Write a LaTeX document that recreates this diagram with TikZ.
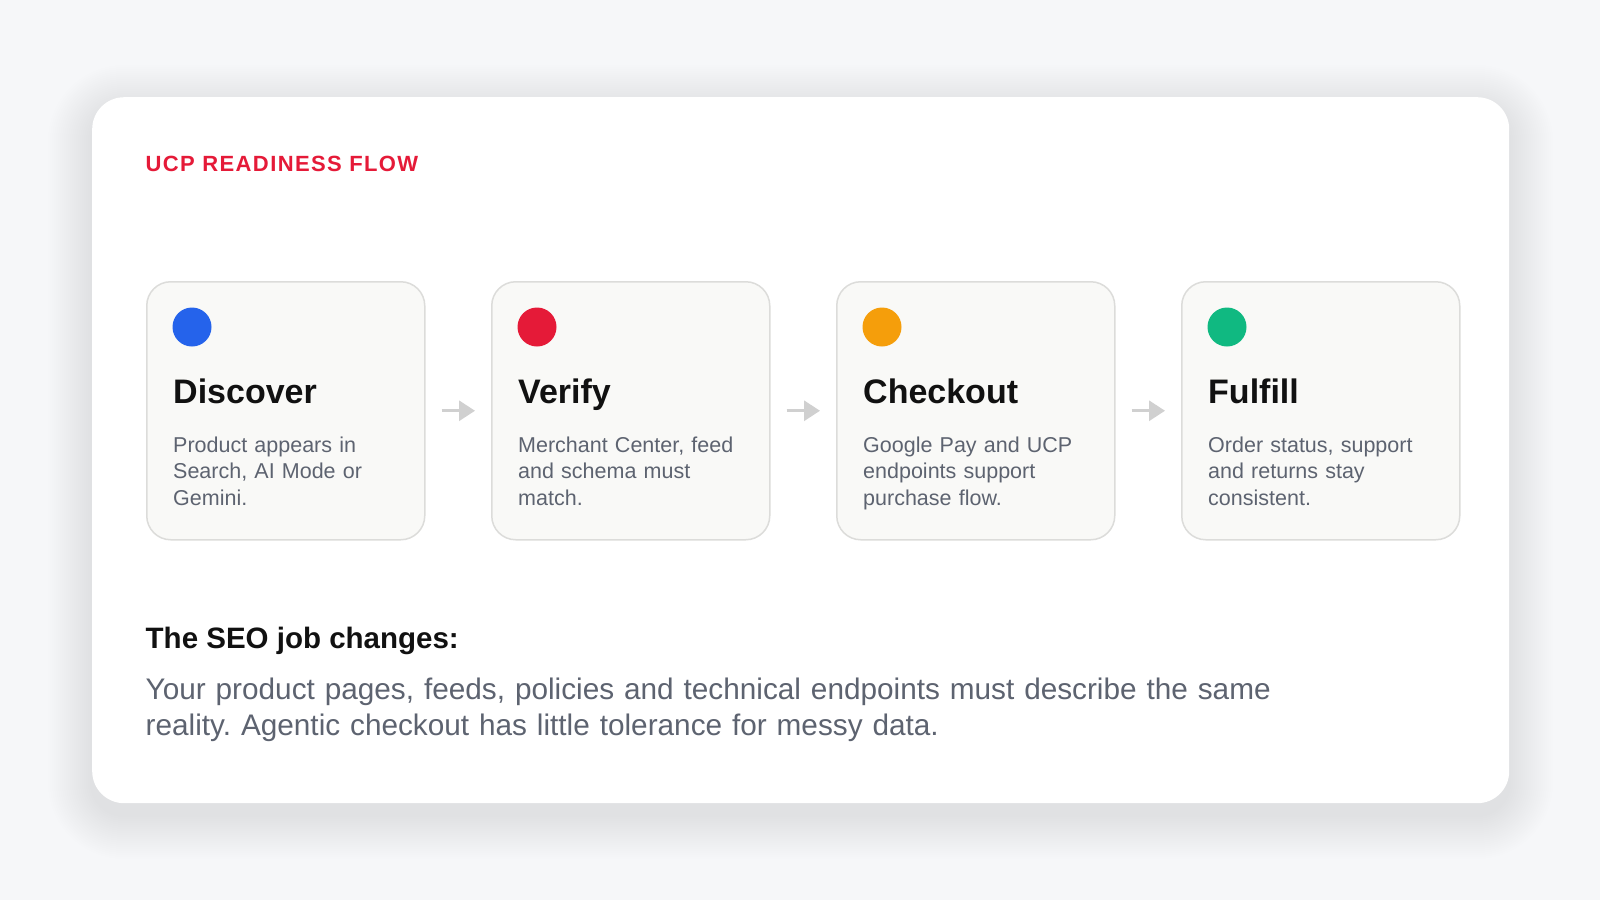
\documentclass[tikz,border=0pt]{standalone}
\usepackage{fontspec}
\setmainfont{Liberation Sans}
\usetikzlibrary{arrows.meta}
\frenchspacing
\definecolor{bg}{HTML}{F6F7F9}
\definecolor{shadowc}{HTML}{1E2430}
\definecolor{boxfill}{HTML}{F9F9F7}
\definecolor{boxline}{HTML}{DCDCDA}
\definecolor{ink}{HTML}{111111}
\definecolor{muted}{HTML}{5D6370}
\definecolor{accent}{HTML}{E51A38}
\definecolor{cblue}{HTML}{2563EB}
\definecolor{cred}{HTML}{E51A38}
\definecolor{corange}{HTML}{F59E0B}
\definecolor{cgreen}{HTML}{10B981}
\definecolor{arrowc}{HTML}{D0D0D0}
\tikzset{
  stepbox/.style={draw=boxline, line width=1.5pt, fill=boxfill, rounded corners=24pt,
    minimum width=278pt, minimum height=258pt, inner sep=0pt, anchor=north west},
  dotmark/.style={circle, inner sep=0pt, minimum size=39pt},
  steptitle/.style={anchor=base west, inner sep=0pt, text=ink, font=\fontsize{34}{40}\selectfont\bfseries},
  stepdesc/.style={anchor=base west, inner sep=0pt, text=muted, align=left, text width=262pt,
    font=\fontsize{21.5}{26.7}\selectfont},
  flowarrow/.style={draw=arrowc, line width=3pt, -{Triangle[length=16pt, width=20pt]},
    shorten <=16pt, shorten >=16pt},
}
\begin{document}
\begin{tikzpicture}[x=1pt, y=-1pt]
\fill[bg] (0,0) rectangle (1600,900);
\useasboundingbox (0,0) rectangle (1600,900);
% soft shadow of the card
\foreach \i in {1,...,22}{
  \fill[shadowc, opacity=0.004, rounded corners={32pt+2pt*\i}]
    ({92-2*\i},{97-2*\i+12}) rectangle ({1509+2*\i},{803+2*\i+12});
}
\node[fill=white, rounded corners=32pt, inner sep=0pt, minimum width=1417pt, minimum height=706pt,
  anchor=north west] (card) at (92,97) {};
% header
\node[anchor=base west, inner sep=0pt, text=accent,
  font=\fontsize{22}{26}\selectfont\bfseries\addfontfeature{LetterSpace=6.3}] (hdr) at (145.5,171) {UCP READINESS FLOW};
% steps
\foreach \i/\col/\ttl/\desc in {
  0/cblue/Discover/{Product appears in\\Search, AI Mode or\\Gemini.},
  1/cred/Verify/{Merchant Center, feed\\and schema must\\match.},
  2/corange/Checkout/{Google Pay and UCP\\endpoints support\\purchase flow.},
  3/cgreen/Fulfill/{Order status, support\\and returns stay\\consistent.}}{
  \node[stepbox] (b\i) at ({146+345*\i},281) {};
  \node[dotmark, fill=\col] (d\i) at ({192+345*\i},327) {};
  \node[steptitle] (t\i) at ({173+345*\i},403) {\ttl};
  \node[stepdesc] (s\i) at ({173+345*\i},452) {\desc};
}
\foreach \i/\j in {0/1,1/2,2/3}{
  \draw[flowarrow] (b\i) -- (b\j);
}
% bottom text
\node[anchor=base west, inner sep=0pt, text=ink, font=\fontsize{29.5}{34}\selectfont\bfseries] (seo) at (145.5,648) {The SEO job changes:};
\node[anchor=base west, inner sep=0pt, text=muted, align=left, text width=1300pt,
  font=\fontsize{29.75}{36}\selectfont] (para) at (145.5,699)
  {Your product pages, feeds, policies and technical endpoints must describe the same\\reality. Agentic checkout has little tolerance for messy data.};
\end{tikzpicture}
\end{document}
